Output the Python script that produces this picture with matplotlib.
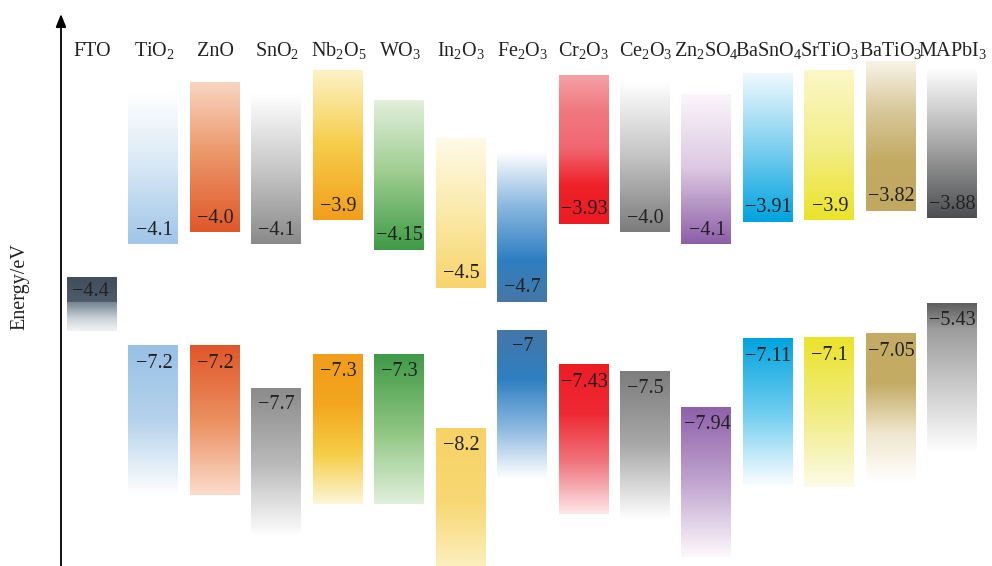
import numpy as np
import matplotlib.pyplot as plt
from matplotlib.colors import to_rgb

plt.rcParams['font.family'] = ['Liberation Serif', 'DejaVu Serif']
plt.rcParams['mathtext.fontset'] = 'custom'
plt.rcParams['mathtext.rm'] = 'Liberation Serif'
plt.rcParams['mathtext.it'] = 'Liberation Serif:italic'
plt.rcParams['mathtext.bf'] = 'Liberation Serif:bold'

# band edges in eV (strings so the printed label is exactly the plotted value)
fto_name = 'FTO'
fto_level = '-4.4'
materials = ['TiO$_2$', 'ZnO', 'SnO$_2$', 'Nb$_2$O$_5$', 'WO$_3$', 'In$_2$O$_3$',
             'Fe$_2$O$_3$', 'Cr$_2$O$_3$', 'Ce$_2$O$_3$', 'Zn$_2$SO$_4$',
             'BaSnO$_4$', 'SrTiO$_3$', 'BaTiO$_3$', 'MAPbI$_3$']
cb_levels = ['-4.1', '-4.0', '-4.1', '-3.9', '-4.15', '-4.5', '-4.7',
             '-3.93', '-4.0', '-4.1', '-3.91', '-3.9', '-3.82', '-3.88']
vb_levels = ['-7.2', '-7.2', '-7.7', '-7.3', '-7.3', '-8.2', '-7',
             '-7.43', '-7.5', '-7.94', '-7.11', '-7.1', '-7.05', '-5.43']

# gradient stops, top -> bottom
fto_colors = ['#414f5d', '#5e6c7a', '#8d9aa6', '#c9d0d6', '#eef0f2']
cb_colors = [
    ['#ffffff', '#d6e7f5', '#9fc5e8'],
    ['#f9d6c2', '#ec9466', '#e0582a'],
    ['#ffffff', '#c8c8c8', '#8a8a8a'],
    ['#fdf3c6', '#f6cd4a', '#f29e1b'],
    ['#e2f0dc', '#9ccc8e', '#3f9b47'],
    ['#fefae8', '#fbe9a8', '#f8d46a'],
    ['#ffffff', '#8ab8e0', '#2f7fc1', '#4776a6'],
    ['#f5a3a8', '#f07880', '#f06670', '#ee2028', '#ed1c24'],
    ['#ffffff', '#c4c4c4', '#7c7c7c'],
    ['#fbf6fb', '#dcc8e2', '#8d5fa8'],
    ['#f2fafe', '#7fd0f0', '#00a3df'],
    ['#fbf8c8', '#f3ee8a', '#ebe32a'],
    ['#f8f4e8', '#d8c89a', '#c3ab64', '#c0a860'],
    ['#ffffff', '#a9a9a9', '#4d4e50'],
]
vb_colors = [
    ['#98c1e5', '#b4d2ec', '#ffffff'],
    ['#e0562a', '#eb8f5f', '#fbdccb'],
    ['#8a8a8a', '#b8b8b8', '#ffffff'],
    ['#f29c1c', '#f3a61e', '#f6cd45', '#fdf6d8'],
    ['#3e9a46', '#8cc47f', '#e1f0dc'],
    ['#f7d366', '#f8d873', '#fdf3cc'],
    ['#4676a7', '#2e7fc1', '#8cb9e0', '#ffffff'],
    ['#ee1c25', '#ee2a33', '#f07880', '#fde6e8'],
    ['#7c7c7c', '#a8a8a8', '#ffffff'],
    ['#8e60aa', '#c0a4cf', '#fdf8fc'],
    ['#00a3de', '#6fcdf0', '#ffffff'],
    ['#ebe32a', '#f1ec80', '#fcfbe6'],
    ['#c4ac66', '#c3ab63', '#efe6cc', '#ffffff'],
    ['#5c5c5c', '#9a9a9a', '#ffffff'],
]

# broken energy axis: CB and VB groups each get their own stretch
E_KNOTS = np.array([-8.2, -7.0, -5.43, -4.7, -4.5, -4.15, -3.82])
U_KNOTS = -np.array([428.0, 329.0, 303.0, 302.0, 288.0, 250.0, 211.0])
SLOPE_LO, SLOPE_HI = 82.5, 118.0


def e2u(e):
    e = np.asarray(e, dtype=float)
    u = np.interp(e, E_KNOTS, U_KNOTS)
    u = np.where(e < E_KNOTS[0], U_KNOTS[0] + (e - E_KNOTS[0]) * SLOPE_LO, u)
    u = np.where(e > E_KNOTS[-1], U_KNOTS[-1] + (e - E_KNOTS[-1]) * SLOPE_HI, u)
    return u


def u2e(u):
    u = np.asarray(u, dtype=float)
    e = np.interp(u, U_KNOTS, E_KNOTS)
    e = np.where(u < U_KNOTS[0], E_KNOTS[0] + (u - U_KNOTS[0]) / SLOPE_LO, e)
    e = np.where(u > U_KNOTS[-1], E_KNOTS[-1] + (u - U_KNOTS[-1]) / SLOPE_HI, e)
    return e


def gradient(stops, n=256):
    rgb = np.array([to_rgb(c) for c in stops])
    t = np.linspace(0, 1, len(stops))
    s = np.linspace(0, 1, n)
    img = np.stack([np.interp(s, t, rgb[:, k]) for k in range(3)], axis=-1)
    return img[:, None, :]


def minus(s):
    return s.replace('-', '\u2212')


BOX_W = 0.83
BAND_H = 150   # drawn height of each band block
FTO_H = 54

fig = plt.figure(figsize=(9.92, 5.66), dpi=100)
ax = fig.add_axes([61 / 992, 0, 931 / 992, 552 / 566])
ax.set_yscale('function', functions=(e2u, u2e))


def band(x, top, bottom, stops):
    ax.imshow(gradient(stops), extent=(x - BOX_W / 2, x + BOX_W / 2, bottom, top),
              origin='upper', aspect='auto', interpolation='bilinear', zorder=2)


# FTO work function
fto = float(fto_level)
band(0, fto, float(u2e(e2u(fto) - FTO_H)), fto_colors)
ax.annotate(minus(fto_level), xy=(0, fto), xytext=(-2, -14), textcoords='offset pixels',
            ha='center', va='center', fontsize=14.5, color='#222222', zorder=3)
ax.text(0, 0.924, fto_name, transform=ax.get_xaxis_transform(),
        ha='center', va='baseline', fontsize=14.5, color='#222222')

for i, name in enumerate(materials):
    x = i + 1
    cb = float(cb_levels[i])
    vb = float(vb_levels[i])
    band(x, float(u2e(e2u(cb) + BAND_H)), cb, cb_colors[i])
    band(x, vb, float(u2e(e2u(vb) - BAND_H)), vb_colors[i])
    ax.annotate(minus(cb_levels[i]), xy=(x, cb), xytext=(0, 14), textcoords='offset pixels',
                ha='center', va='center', fontsize=14.5, color='#222222', zorder=3)
    ax.annotate(minus(vb_levels[i]), xy=(x, vb), xytext=(0, -18), textcoords='offset pixels',
                ha='center', va='center', fontsize=14.5, color='#222222', zorder=3)
    ax.text(x, 0.924, name, transform=ax.get_xaxis_transform(),
            ha='center', va='baseline', fontsize=14.5, color='#222222')

ax.set_xlim(-0.513, 14.64)
ax.set_ylim(float(u2e(-566)), float(u2e(-14)))

for s in ax.spines.values():
    s.set_visible(False)
ax.set_xticks([])
ax.set_yticks([])
ax.minorticks_off()
ax.annotate('', xy=(0, 1), xytext=(0, 0), xycoords='axes fraction',
            arrowprops=dict(arrowstyle='-|>,head_length=0.55,head_width=0.22', lw=1.3,
                            color='k', mutation_scale=14, shrinkA=0, shrinkB=0))
fig.text(20 / 992, 1 - 287 / 566, 'Energy/eV', rotation=90, ha='center', va='center',
         fontsize=14.5, color='#222222')

fig.savefig('out.png', dpi=100)
